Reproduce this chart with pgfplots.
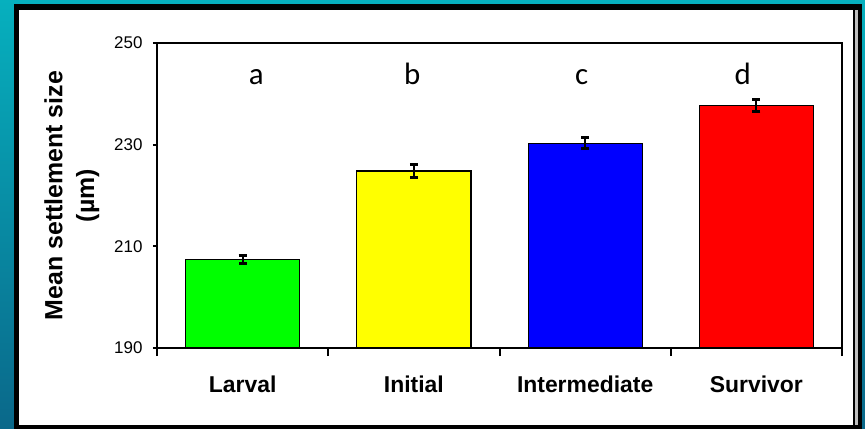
\documentclass[border=0pt]{standalone}
\usepackage{pgfplots}
\pgfplotsset{compat=1.18}
\usepackage{fontspec}
\setmainfont{Liberation Sans}
\newfontfamily\carlito{Carlito}

\definecolor{tealtop}{RGB}{6,176,190}
\definecolor{tealbot}{RGB}{10,104,138}
\definecolor{bargreen}{RGB}{0,255,0}
\definecolor{baryellow}{RGB}{255,255,0}
\definecolor{barblue}{RGB}{0,0,255}
\definecolor{barred}{RGB}{255,0,0}

\begin{document}
\begin{tikzpicture}
  % slide background and white panel
  \useasboundingbox (0,0) rectangle (865bp,429bp);
  \shade[top color=tealtop, bottom color=tealbot] (0,0) rectangle (865bp,429bp);
  \fill[black] (14bp,0) rectangle (862bp,425bp);
  \fill[white] (19bp,4bp) rectangle (853bp,419bp);
  \fill[gray!50] (855bp,4bp) rectangle (857.5bp,419bp);

  \begin{axis}[
    at={(157bp,81bp)}, anchor=south west,
    scale only axis, width=685bp, height=305bp,
    xmin=-0.5, xmax=3.5,
    ymin=190, ymax=250,
    ytick={190,210,230,250},
    xtick={0,1,2,3},
    xticklabels={Larval,Initial,Intermediate,Survivor},
    minor xtick={-0.5,0.5,1.5,2.5,3.5},
    major x tick style={draw=none},
    minor tick length=8bp,
    major tick length=4bp,
    tick align=outside,
    xtick pos=bottom, ytick pos=left,
    axis line style={line width=2.2bp},
    every tick/.style={black, line width=2bp},
    xticklabel style={font=\fontsize{23}{26}\selectfont\bfseries, yshift=-20bp},
    yticklabel style={font=\fontsize{17}{19}\selectfont, xshift=-7bp},
    /pgf/number format/assume math mode=true,
    ylabel={Mean settlement size\\(µm)},
    ylabel style={at={(axis description cs:-0.079,0.5)}, anchor=south, rotate=0,
      align=center, font=\fontsize{25}{32}\selectfont\bfseries},
    bar width=0.666,
    error bars/error bar style={line width=2.2bp, black},
    error bars/error mark options={line width=3bp, mark size=4bp, black, rotate=90},
    clip=true,
  ]
    \addplot[ybar, bar shift=0pt, fill=bargreen, draw=black, line width=1.2bp,
      error bars/.cd, y dir=both, y explicit]
      coordinates {(0,207.4) +- (0,0.73)};
    \addplot[ybar, bar shift=0pt, fill=baryellow, draw=black, line width=1.2bp,
      error bars/.cd, y dir=both, y explicit]
      coordinates {(1,224.8) +- (0,1.28)};
    \addplot[ybar, bar shift=0pt, fill=barblue, draw=black, line width=1.2bp,
      error bars/.cd, y dir=both, y explicit]
      coordinates {(2,230.3) +- (0,1.04)};
    \addplot[ybar, bar shift=0pt, fill=barred, draw=black, line width=1.2bp,
      error bars/.cd, y dir=both, y explicit]
      coordinates {(3,237.7) +- (0,1.24)};

    \node[anchor=base, font=\carlito\fontsize{31}{34}\selectfont] at (axis cs:0.08,241.9) {a};
    \node[anchor=base, font=\carlito\fontsize{31}{34}\selectfont] at (axis cs:0.99,241.9) {b};
    \node[anchor=base, font=\carlito\fontsize{31}{34}\selectfont] at (axis cs:1.98,241.9) {c};
    \node[anchor=base, font=\carlito\fontsize{31}{34}\selectfont] at (axis cs:2.92,241.9) {d};
  \end{axis}
\end{tikzpicture}
\end{document}
